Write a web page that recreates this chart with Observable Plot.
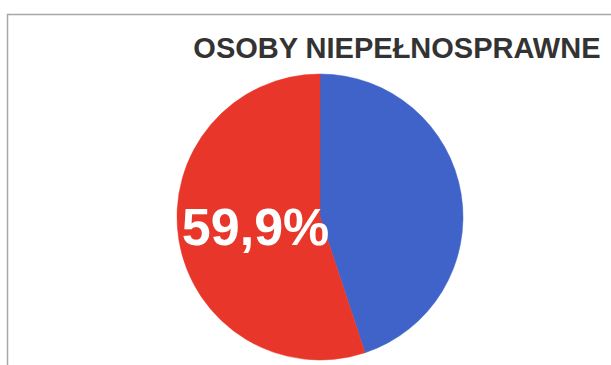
<!DOCTYPE html>
<html>
<head>
<meta charset="utf-8">
<script src="https://cdn.jsdelivr.net/npm/d3@7"></script>
<script src="https://cdn.jsdelivr.net/npm/@observablehq/plot@0.6"></script>
<style>
  html, body { margin: 0; padding: 0; background: #fff; }
  svg { display: block; }
</style>
</head>
<body>
<div id="chart"></div>
<script>
// Data
const title = "OSOBY NIEPEŁNOSPRAWNE";
const categories = ["Pozostałe", "Osoby niepełnosprawne"];
const shares = [44.9, 55.1];          // slice sizes as drawn
const labels = ["", "59,9%"];         // printed label
const colors = ["#3f63c8", "#e8372a"];

const data = categories.map((c, i) => ({category: c, value: shares[i], label: labels[i]}));

const pie = d3.pie().sort(null).value(d => d.value);
const arcs = pie(data);
const labelArc = d3.arc().innerRadius(0.46).outerRadius(0.46);
const labelData = arcs.filter(a => a.data.label).map(a => {
  const [cx, cy] = labelArc.centroid(a);
  return {label: a.data.label, x: cx, y: -cy};
});

const chart = Plot.plot({
  width: 611,
  height: 365,
  margin: 0,
  x: {type: "linear", domain: [-1, 1], range: [177, 463], axis: null},
  y: {type: "linear", domain: [-1, 1], range: [360, 74], axis: null},
  color: {domain: categories, range: colors},
  style: {fontFamily: "'Liberation Sans', Arial, sans-serif", background: "#fff"},
  marks: [
    Plot.frame({stroke: "#a8a8a8", strokeWidth: 1.5, insetLeft: 7, insetTop: 14, insetRight: -5, insetBottom: -5}),
    Plot.dot(data, {
      x: () => 0, y: () => 0, fill: "category",
      render: (index, scales, values, dimensions, context) => {
        const cx = scales.x(0), cy = scales.y(0);
        const r = scales.x(1) - scales.x(0);
        const g = d3.select(context.document.createElementNS(d3.namespaces.svg, "g"));
        const arcGen = d3.arc().innerRadius(0).outerRadius(r);
        g.selectAll("path")
          .data(pie(data))
          .join("path")
          .attr("transform", `translate(${cx},${cy})`)
          .attr("d", arcGen)
          .attr("fill", d => scales.color(d.data.category))
          .attr("stroke", d => scales.color(d.data.category))
          .attr("stroke-width", 0.5);
        return g.node();
      }
    }),
    Plot.text(labelData, {
      x: "x", y: "y", text: "label",
      fill: "#fff", fontSize: 52, fontWeight: "bold", lineAnchor: "middle"
    }),
    Plot.text([title], {
      frameAnchor: "top-right", lineAnchor: "middle", dx: -11, dy: 48,
      fill: "#333", fontSize: 29, fontWeight: "bold"
    })
  ]
});
document.getElementById("chart").append(chart);
</script>
</body>
</html>
